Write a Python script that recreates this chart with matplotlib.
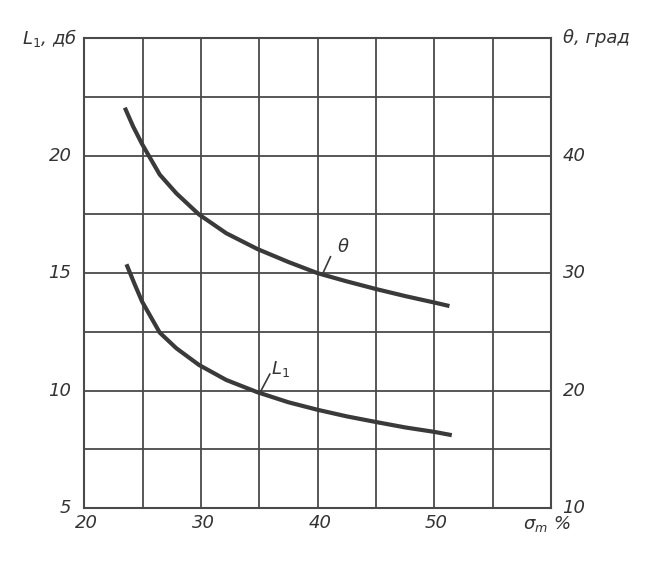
import matplotlib
matplotlib.use("Agg")
import matplotlib.pyplot as plt
from matplotlib.ticker import MultipleLocator, NullFormatter

# Data
sigma_theta = [23.47, 24.18, 24.95, 26.46, 27.89, 29.83, 32.17, 34.83,
               37.5, 40, 42.5, 45, 47.5, 50, 51.3]
theta = [44.1, 42.5, 41.0, 38.4, 36.8, 35.0, 33.4, 32.06,
         30.95, 30.0, 29.3, 28.65, 28.05, 27.5, 27.2]

sigma_L = [23.61, 24.32, 24.95, 26.46, 27.89, 29.83, 32.17, 34.83,
           37.5, 40, 42.5, 45, 47.5, 50, 51.5]
L1 = [15.38, 14.52, 13.79, 12.47, 11.8, 11.09, 10.45, 9.93,
      9.5, 9.18, 8.9, 8.66, 8.43, 8.24, 8.1]

x_ticks = [20, 30, 40, 50]
left_ticks = [5, 10, 15, 20]
right_ticks = [10, 20, 30, 40]

ink = "#3a3a3a"
grid_c = "#4a4a4a"
fs = 13

fig = plt.figure(figsize=(6.59, 5.65), dpi=100)
ax = fig.add_axes([0.128, 0.101, 0.708, 0.831])
ax.set_xlim(20, 60)
ax.set_ylim(5, 25)
ax.xaxis.set_major_locator(MultipleLocator(5))
ax.yaxis.set_major_locator(MultipleLocator(2.5))
ax.xaxis.set_major_formatter(NullFormatter())
ax.yaxis.set_major_formatter(NullFormatter())
ax.grid(True, color=grid_c, linewidth=1.3)
ax.tick_params(length=0)
for s in ax.spines.values():
    s.set_color(grid_c)
    s.set_linewidth(1.5)

ax2 = ax.twinx()
ax2.set_ylim(10, 50)
ax2.set_yticks([])
for s in ax2.spines.values():
    s.set_visible(False)

ax.plot(sigma_L, L1, color=ink, linewidth=3.0, solid_capstyle="butt",
        solid_joinstyle="round", zorder=5)
ax2.plot(sigma_theta, theta, color=ink, linewidth=3.0, solid_capstyle="butt",
         solid_joinstyle="round", zorder=5)

tkw = dict(fontsize=fs, style="italic", color="#333333")
for v in x_ticks:
    ax.text(v + 0.2, 5 - 0.25, str(v), ha="center", va="top", **tkw)
for v in left_ticks:
    ax.text(20 - 1.1, v, str(v), ha="right", va="center", **tkw)
for v in right_ticks:
    ax2.text(60 + 1.0, v, str(v), ha="left", va="center", **tkw)

ax.text(20 - 0.6, 25, "L$_1$, дб", ha="right", va="center", **tkw)
ax.text(60 + 1.0, 25, "θ, град", ha="left", va="center", **tkw)
ax.text(57.6, 5 - 0.25, "σ$_m$ %", ha="left", va="top", **tkw)

# curve labels with leader lines
ax2.text(42.2, 31.5, "θ", ha="center", va="bottom", **tkw)
ax2.plot([40.5, 41.1], [30.1, 31.4], color=ink, linewidth=1.2)
ax.text(36.8, 10.5, "L$_1$", ha="center", va="bottom", **tkw)
ax.plot([35.1, 35.9], [9.95, 10.7], color=ink, linewidth=1.2)

fig.savefig("out.png", dpi=100, facecolor="white")
